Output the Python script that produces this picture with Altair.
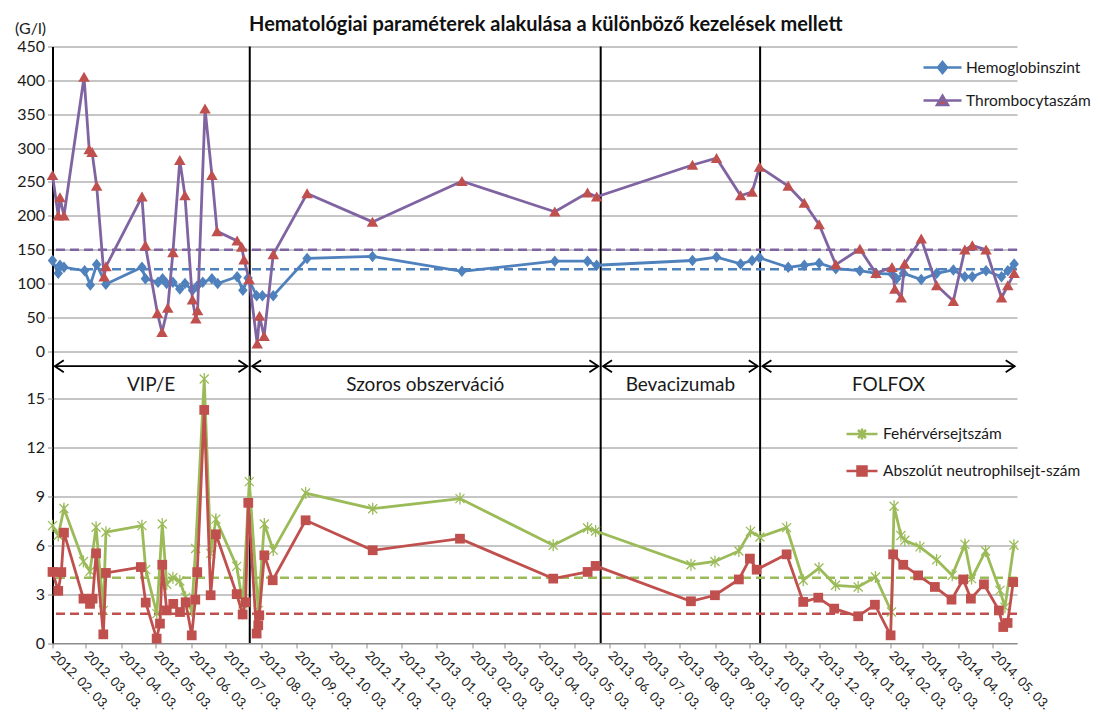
import altair as alt
import pandas as pd

FONT = "Lato"
GRID = "#8c8c8c"
TXT = "#1a1a1a"

START = "2012-02-03"
END = "2014-05-24"

# x values are days since the first measurement (2012-02-03)
hgb_day = [0, 5, 6.5, 10, 28, 33, 38.5, 46.5, 78, 81, 92, 96, 99.5, 105, 111, 115.5, 122, 126, 131, 139,
           144, 161, 166, 170.5, 178, 183, 192.5, 222, 279, 357, 438, 466.5, 474.5, 558, 579, 600, 610,
           616.5, 641.5, 655.5, 668.5, 683, 704, 718, 732, 736, 742, 757.5, 771, 785.5, 795.5, 802, 814,
           827.5, 833, 838.5]
hgb_val = [134, 115, 127, 124, 119, 98, 128, 99, 124, 107, 102, 107, 100, 102, 92, 100, 90, 96, 102, 107,
           100, 110, 90, 108, 82, 82, 82, 137, 140, 118, 133, 133, 127, 134, 139, 129, 134,
           138, 124, 127, 130, 122, 119, 115, 114, 107, 115, 106, 115, 120, 110, 110, 119,
           110, 119, 129]

plt_day = [0, 5, 6.5, 10, 27.5, 32, 34.5, 38.5, 45, 46.6, 78, 81, 91.5, 95.5, 100.5, 105, 111, 115.5, 122,
           125, 126.5, 133, 139, 143.5, 161, 165, 167, 171.5, 178.5, 180.5, 184.5, 192.5, 222, 279, 357,
           438, 466.5, 474.5, 558, 579, 600, 610, 616.5, 641.5, 655.5, 668.5, 683, 704, 718, 732, 734.5,
           740, 743, 757.5, 771, 785.5, 795.5, 802, 814, 827.5, 833, 838.5]
plt_val = [260, 200, 227, 200, 405, 298, 294, 244, 110, 125, 228, 156, 56, 28, 64, 146, 282, 230, 76,
           48, 60, 358, 260, 177, 163, 154, 135, 106, 11, 52, 22, 143, 233, 191, 251,
           206, 234, 228, 275, 285, 230, 235, 272, 244, 219, 187, 128, 151, 115, 124, 92,
           79, 129, 166, 97, 74, 150, 156, 150, 79, 97, 115]

wbc_day = [0, 5, 10, 27, 32.7, 38, 44.3, 46.6, 78, 81.3, 91, 95.7, 99.6, 105, 111, 116, 121.4, 124.8,
           132.3, 138, 142.5, 160.6, 166, 171.6, 179.4, 184.7, 192.5, 220.7, 279.2, 355.3, 436.6, 466.6,
           473.6, 556.7, 577.6, 598.5, 608.6, 616.8, 640.1, 654.6, 668.3, 682.8, 702.5, 717.6, 731.6,
           733.8, 739.8, 743.2, 756.4, 770.9, 784.5, 795.6, 801.4, 813.6, 826.1, 830.5, 838.3]
wbc_val = [7.2, 6.6, 8.25, 5.0, 4.4, 7.1, 2.0, 6.8, 7.2, 4.5, 1.8, 7.3, 3.6, 4.0, 3.8, 2.8, 2.0, 5.8,
           16.2, 5.5, 7.6, 4.7, 2.4, 9.9, 2.0, 7.3, 5.7, 9.2, 8.24, 8.86, 6.0, 7.06,
           6.87, 4.8, 5.0, 5.65, 6.85, 6.5, 7.08, 3.85, 4.6, 3.54, 3.44, 4.05, 1.9,
           8.39, 6.6, 6.3, 5.9, 5.1, 4.15, 6.05, 3.95, 5.65, 3.23, 2.2, 6.0]

anc_day = [0, 5, 7.7, 10, 27, 32.7, 35, 38, 44.3, 46.6, 77, 81.3, 90.8, 93.7, 95.7, 99.6, 105.3, 111.2,
           116.1, 121.4, 124.5, 126.2, 132.3, 137.9, 142.5, 160.6, 165.8, 168.4, 170.7, 178, 179.4,
           180.3, 184.7, 192, 220.7, 279.2, 355.3, 436.6, 466.6, 473.6, 556.7, 577.6, 598.5, 608.1,
           614, 640.1, 654.6, 667.7, 681.6, 702.5, 717.1, 730.8, 733, 741.8, 754.8, 769.4, 783.9,
           794.1, 800.8, 812.2, 825.2, 829, 832.8, 837.7]
anc_val = [4.36, 3.2, 4.35, 6.77, 2.72, 2.4, 2.72, 5.5, 0.53, 4.3, 4.66, 2.48, 0.27, 1.19, 4.8, 2.0, 2.4,
           1.9, 2.5, 0.47, 2.66, 4.35, 14.3, 2.93, 6.67, 3.0, 1.75, 2.5, 8.6, 0.58, 1.09,
           1.7, 5.38, 3.85, 7.53, 5.69, 6.4, 3.95, 4.36, 4.73, 2.56, 2.93, 3.9, 5.18,
           4.5, 5.44, 2.52, 2.78, 2.11, 1.64, 2.35, 0.47, 5.44, 4.8, 4.15, 3.44, 2.66,
           3.9, 2.72, 3.6, 2.0, 0.98, 1.23, 3.74]

top_names = ["Hemoglobinszint", "Thrombocytaszám"]
bottom_names = ["Fehérvérsejtszám", "Abszolút neutrophilsejt-szám"]
ref_top = [121, 150]
ref_bottom = [4.0, 1.8]

phase_names = ["VIP/E", "Szoros obszerváció", "Bevacizumab", "FOLFOX"]
phase_start = ["2012-02-03", "2012-07-24", "2013-05-26", "2013-10-12"]
phase_end = ["2012-07-24", "2013-05-26", "2013-10-12", "2014-05-24"]

tick_dates = ["2012-02-03", "2012-03-03", "2012-04-03", "2012-05-03", "2012-06-03", "2012-07-03",
              "2012-08-03", "2012-09-03", "2012-10-03", "2012-11-03", "2012-12-03", "2013-01-03",
              "2013-02-03", "2013-03-03", "2013-04-03", "2013-05-03", "2013-06-03", "2013-07-03",
              "2013-08-03", "2013-09-03", "2013-10-03", "2013-11-03", "2013-12-03", "2014-01-03",
              "2014-02-03", "2014-03-03", "2014-04-03", "2014-05-03"]

BLUE, PURPLE, RED, GREEN = "#4f81bd", "#8064a2", "#c0504d", "#9bbb59"
ARROW_Y, LABEL_Y = -22, -50
LW = 2.8

start = pd.Timestamp(START)


def to_dt(s):
    t = pd.Timestamp(s)
    return alt.DateTime(year=t.year, month=t.month, date=t.day)


def sdf(days, vals):
    return pd.DataFrame({"d": start + pd.to_timedelta(days, unit="D"), "v": vals})


xscale = alt.Scale(domain=[to_dt(START), to_dt(END)], nice=False)
xaxis = alt.Axis(values=[to_dt(s) for s in tick_dates], format="%Y. %m. %d.", labelAngle=45,
                 labelAlign="left", labelBaseline="middle", labelFont=FONT, labelFontSize=13,
                 labelColor=TXT, labelPadding=5, labelOverlap=False, labelFlush=False, labelBound=False,
                 grid=False, domainColor=GRID, tickColor=GRID, tickSize=5, title=None)


def X(field):
    return alt.X(f"{field}:T", scale=xscale, axis=xaxis)


top_axis = alt.Axis(values=list(range(0, 451, 50)), orient="left", grid=True, gridColor=GRID,
                    domain=True, domainColor="black", domainWidth=2, tickColor=GRID, tickSize=5,
                    labelFont=FONT, labelFontSize=16, labelColor=TXT, labelPadding=3,
                    title="(G/l)", titleAngle=0, titleAlign="right", titleBaseline="alphabetic",
                    titleX=-7, titleY=-13, titleFont=FONT, titleFontSize=16, titleFontWeight="normal",
                    titleColor=TXT)
bottom_axis = alt.Axis(values=[0, 3, 6, 9, 12, 15], orient="left", grid=True, gridColor=GRID,
                       domain=False, tickColor=GRID, tickSize=5, labelFont=FONT, labelFontSize=16,
                       labelColor=TXT, labelPadding=3, title=None)


def YT(field):
    return alt.Y(f"{field}:Q", scale=alt.Scale(domain=[-430.8, 450], nice=False, zero=False), axis=top_axis)


def YB(field):
    return alt.Y(f"{field}:Q", scale=alt.Scale(domain=[0, 36.6], nice=False, zero=False), axis=bottom_axis)


DIAMOND = "M0,-1.15L0.95,0L0,1.15L-0.95,0Z"
TRIANGLE = "M0,-1.05L1.15,0.95L-1.15,0.95Z"
STAR = "M-0.9,-0.9L0.9,0.9M-0.9,0.9L0.9,-0.9M0,-1.2L0,1.2"
CHEV_L = "M1.5,-1L0,0L1.5,1"
CHEV_R = "M-1.5,-1L0,0L-1.5,1"

hgb = sdf(hgb_day, hgb_val)
plt_ = sdf(plt_day, plt_val)
wbc = sdf(wbc_day, wbc_val)
anc = sdf(anc_day, anc_val)

ph = pd.DataFrame({"name": phase_names, "s": pd.to_datetime(phase_start), "e": pd.to_datetime(phase_end)})
ph["mid"] = ph["s"] + (ph["e"] - ph["s"]) / 2
ph["a0"] = ph["s"] + pd.Timedelta(days=2)
ph["a1"] = ph["e"] - pd.Timedelta(days=2)
ph["ay"] = ARROW_Y
ph["ly"] = LABEL_Y

bounds = pd.DataFrame({"d": pd.to_datetime(phase_start[1:])})

# ---- top panel ----
ref_t = pd.DataFrame({"v": ref_top, "c": [BLUE, PURPLE]})
top_refs = alt.Chart(ref_t).mark_rule(strokeDash=[9, 5], strokeWidth=2.5).encode(
    y=YT("v"), color=alt.Color("c:N", scale=None, legend=None))
hgb_line = alt.Chart(hgb).mark_line(color=BLUE, strokeWidth=LW).encode(x=X("d"), y=YT("v"))
hgb_pts = alt.Chart(hgb).mark_point(shape=DIAMOND, filled=True, color=BLUE, size=100, opacity=1).encode(
    x=X("d"), y=YT("v"))
plt_line = alt.Chart(plt_).mark_line(color=PURPLE, strokeWidth=LW).encode(x=X("d"), y=YT("v"))
plt_pts = alt.Chart(plt_).mark_point(shape=TRIANGLE, filled=True, color=RED, size=100, opacity=1).encode(
    x=X("d"), y=YT("v"))
arrows = alt.Chart(ph).mark_rule(color="black", strokeWidth=1.8).encode(
    x=X("a0"), x2=alt.X2("a1:T"), y=YT("ay"))
heads_l = alt.Chart(ph).mark_point(shape=CHEV_L, filled=False, color="black", strokeWidth=1.8,
                                   size=144, opacity=1).encode(x=X("a0"), y=YT("ay"))
heads_r = alt.Chart(ph).mark_point(shape=CHEV_R, filled=False, color="black", strokeWidth=1.8,
                                   size=144, opacity=1).encode(x=X("a1"), y=YT("ay"))
labels = alt.Chart(ph).mark_text(font=FONT, fontSize=19, color=TXT, baseline="middle", align="center").encode(
    x=X("mid"), y=YT("ly"), text="name:N")

top_group = alt.layer(top_refs, hgb_line, hgb_pts, plt_line, plt_pts, arrows, heads_l, heads_r, labels)

# ---- bottom panel ----
ref_b = pd.DataFrame({"v": ref_bottom, "c": [GREEN, RED]})
bot_refs = alt.Chart(ref_b).mark_rule(strokeDash=[9, 5], strokeWidth=2.5).encode(
    y=YB("v"), color=alt.Color("c:N", scale=None, legend=None))
wbc_line = alt.Chart(wbc).mark_line(color=GREEN, strokeWidth=LW).encode(x=X("d"), y=YB("v"))
wbc_pts = alt.Chart(wbc).mark_point(shape=STAR, filled=False, color=GREEN, strokeWidth=1.3, size=100,
                                    opacity=1).encode(x=X("d"), y=YB("v"))
anc_line = alt.Chart(anc).mark_line(color=RED, strokeWidth=LW).encode(x=X("d"), y=YB("v"))
anc_pts = alt.Chart(anc).mark_point(shape="square", filled=True, color=RED, size=95, opacity=1).encode(
    x=X("d"), y=YB("v"))

bottom_group = alt.layer(bot_refs, wbc_line, wbc_pts, anc_line, anc_pts)

# ---- treatment boundaries ----
vrules = alt.Chart(bounds).mark_rule(color="black", strokeWidth=2).encode(x=X("d"))


# ---- legends (scale-driven, no visible marks) ----
def make_legend(names, fills, strokes, shapes, lx, ly, row_pad, label_off, sw):
    lg = alt.Legend(title=None, orient="none", legendX=lx, legendY=ly, symbolSize=400,
                    symbolStrokeWidth=sw, symbolFillColor=fills[0], symbolOpacity=1,
                    labelFont=FONT, labelFontSize=15.5, labelColor=TXT, labelOffset=label_off,
                    labelLimit=400, rowPadding=row_pad, padding=0)
    return alt.Chart(pd.DataFrame({"s": names})).transform_filter("false").mark_point(filled=True).encode(
        color=alt.Color("s:N", scale=alt.Scale(domain=names, range=fills), legend=lg),
        stroke=alt.Stroke("s:N", scale=alt.Scale(domain=names, range=strokes), legend=lg),
        shape=alt.Shape("s:N", scale=alt.Scale(domain=names, range=shapes), legend=lg),
    )


leg_top = make_legend(
    top_names, [BLUE, RED], [BLUE, PURPLE],
    ["M-1.9,0L1.9,0M0,-0.55L0.45,0L0,0.55L-0.45,0Z", "M-1.9,0L1.9,0M0,-0.48L0.55,0.45L-0.55,0.45Z"],
    878.5, 9.5, 11, 12, 2.5)
leg_bot = make_legend(
    bottom_names, [GREEN, RED], [GREEN, RED],
    ["M-1.55,0L1.55,0M-0.4,-0.4L0.4,0.4M-0.4,0.4L0.4,-0.4M0,-0.55L0,0.55",
     "M-1.55,0L1.55,0M-0.45,-0.45L0.45,-0.45L0.45,0.45L-0.45,0.45Z"],
    798, 376, 15, 9.5, 2.5)

chart = alt.layer(vrules, top_group, bottom_group, leg_top, leg_bot).resolve_scale(
    y="independent", color="independent", stroke="independent", shape="independent"
).properties(
    width=964.5, height=596.5,
    title=alt.TitleParams(text="Hematológiai paraméterek alakulása a különböző kezelések mellett",
                          font=FONT, fontSize=20, fontWeight="bold", color="#111111", anchor="middle",
                          frame="group", offset=-14, dx=11),
    autosize=alt.AutoSizeParams(type="none"),
    padding={"left": 44.5, "top": 38.5, "right": 81, "bottom": 78},
).configure_view(stroke="transparent")

chart.save("out.html", embed_options={"renderer": "svg", "actions": False})
